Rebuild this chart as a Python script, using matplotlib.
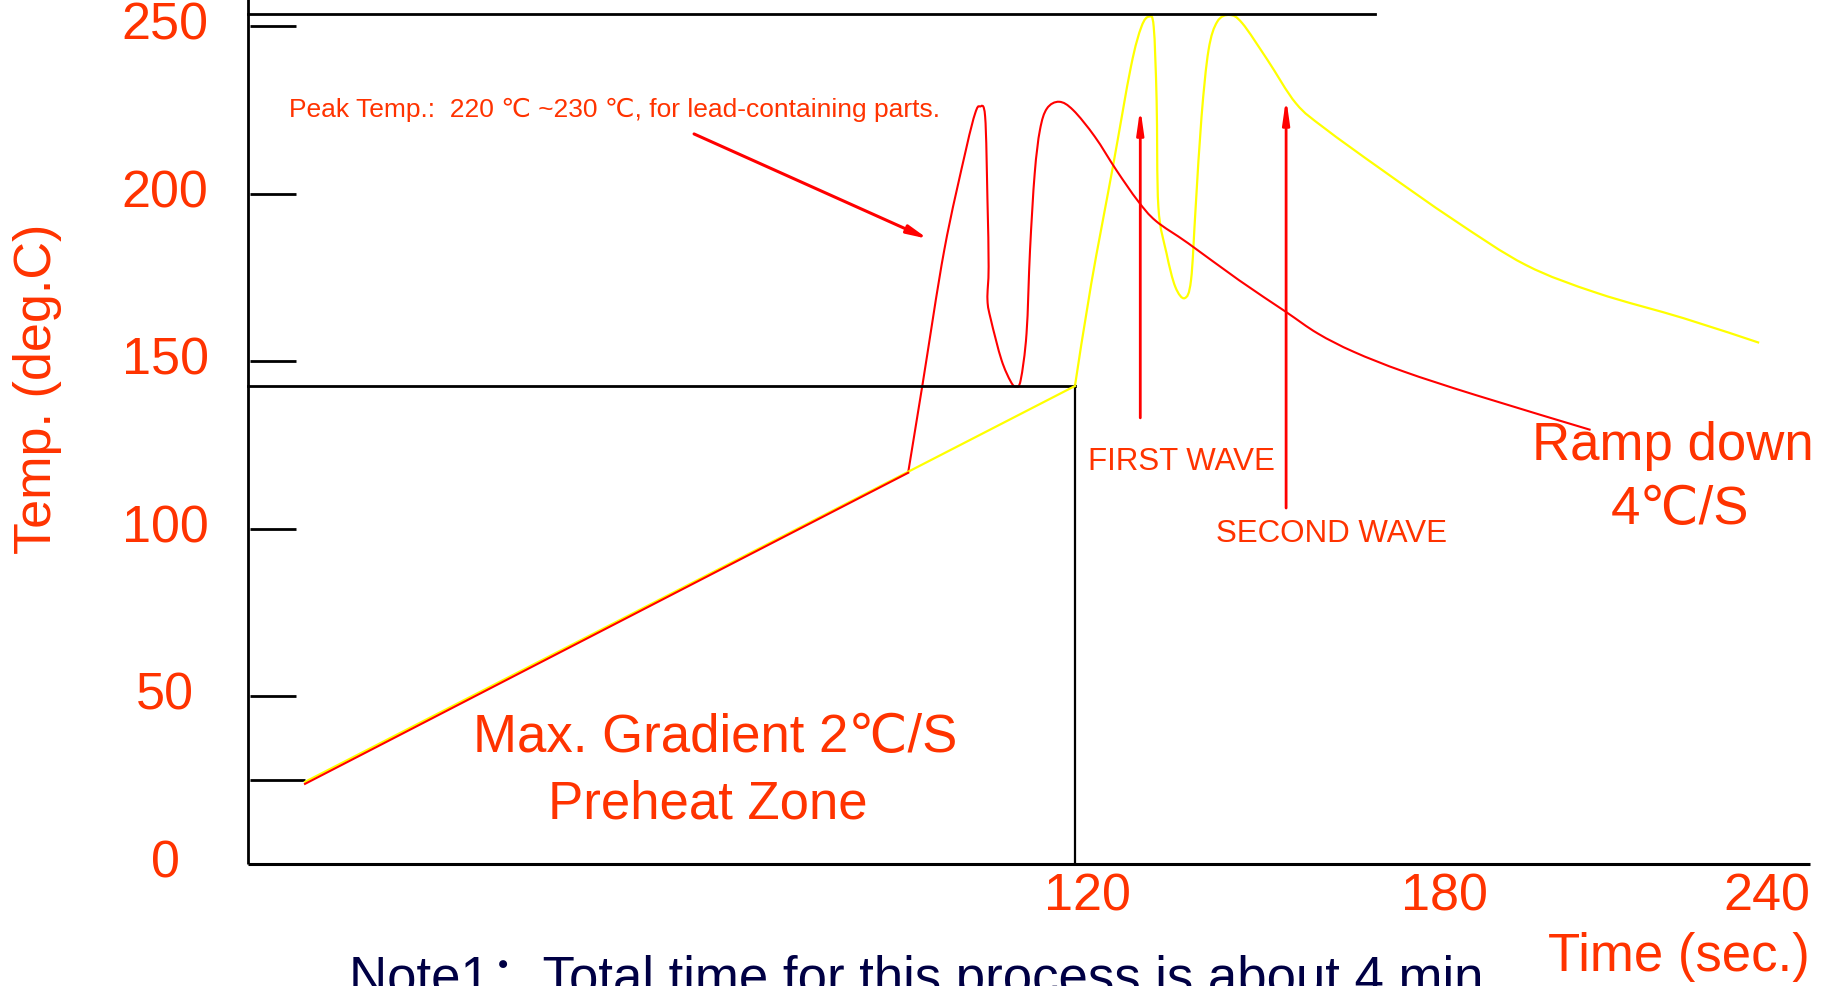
import matplotlib
matplotlib.use("Agg")
import matplotlib.pyplot as plt
import numpy as np
from matplotlib.path import Path
from matplotlib.patches import PathPatch

plt.rcParams["font.family"] = ["Liberation Sans", "DejaVu Sans"]

ORANGE = "#ff3300"
NAVY = "#000044"

# reflow profile readings (time in s, temperature in deg C), schematic chart
yellow_t = [-12.0, 120.0, 122.8, 126.5, 129.6, 131.4, 132.7, 133.5, 134.0, 134.3, 135.7,
            137.2, 138.8, 139.9, 140.7, 141.7, 142.9, 144.4, 146.5, 148.7, 153.0, 157.9,
            162.8, 172.7, 185.0, 197.3, 209.6, 224.4, 237.3]
yellow_temp = [24.5, 142.6, 173.2, 208.0, 237.9, 249.8, 252.8, 249.8, 227.9, 196.1, 182.2,
               172.2, 168.8, 174.2, 196.1, 222.9, 242.8, 251.3, 253.3, 250.8, 239.9, 226.9,
               219.5, 207.0, 192.1, 178.7, 170.3, 162.8, 155.5]

red_t = [-12.0, 91.4, 93.9, 97.6, 101.3, 102.9, 103.7, 104.6, 105.0, 105.2, 105.0, 105.6,
         107.4, 109.0, 109.9, 110.7, 111.7, 112.3, 113.1, 114.0, 115.2, 117.3, 119.7, 123.4,
         127.1, 130.8, 133.9, 139.4, 148.1, 156.1, 161.6, 167.8, 176.4, 188.7, 208.4]
red_temp = [23.9, 116.7, 143.4, 183.2, 213.0, 224.0, 226.0, 223.0, 198.1, 178.2, 168.3, 162.3,
            150.4, 143.9, 142.4, 144.4, 158.3, 183.2, 206.0, 219.0, 225.4, 227.4, 224.9, 217.0,
            207.0, 197.8, 191.8, 185.2, 174.2, 164.8, 158.3, 152.8, 146.9, 139.9, 129.5]

y_ticks = [250, 200, 150, 100, 50, 25]
y_labels = [250, 200, 150, 100, 50, 0]
x_labels = [120, 180, 240]
x_label_nudge = [9, 14, -6]   # points, the printed labels sit a little off their marks

axis_t = -21.8
axis_end_t = 246.0
top_temp = 253.6
top_end_t = 171.4
preheat_end_t = 120
preheat_temp = 142.6


def smooth_curve(ts, vs):
    # Catmull-Rom through the read points, drawn as cubic Bezier pieces
    p = np.column_stack([ts, vs])
    verts = [p[0]]
    codes = [Path.MOVETO]
    n = len(p)
    for i in range(n - 1):
        p0 = p[i - 1] if i > 0 else p[i]
        p1, p2 = p[i], p[i + 1]
        p3 = p[i + 2] if i + 2 < n else p[i + 1]
        verts += [p1 + (p2 - p0) / 6, p2 - (p3 - p1) / 6, p2]
        codes += [Path.CURVE4] * 3
    return Path(verts, codes)


fig = plt.figure(figsize=(18.26, 9.86), dpi=100)
ax = fig.add_axes([0, 0, 1, 1])
ax.set_xlim(-64.29, 248.76)
ax.set_ylim(-36.4, 257.76)
ax.axis("off")

# frame lines
ax.plot([axis_t, axis_t], [0, 260], color="black", lw=2, solid_capstyle="butt")
ax.plot([axis_t, axis_end_t], [0, 0], color="black", lw=2.2, solid_capstyle="butt")
ax.plot([axis_t, top_end_t], [top_temp, top_temp], color="black", lw=2)
ax.plot([axis_t, preheat_end_t], [preheat_temp, preheat_temp], color="black", lw=2)
ax.plot([preheat_end_t, preheat_end_t], [0, preheat_temp], color="black", lw=1.6)

for v in y_ticks:
    end = -12.0 if v == 25 else -13.5
    ax.plot([-21.4, end], [v, v], color="black", lw=2, solid_capstyle="butt")

for v in y_labels:
    ax.text(-36.0, v, str(v), color=ORANGE, fontsize=37.5, ha="center", va="center")
for v, dx in zip(x_labels, x_label_nudge):
    ax.annotate(str(v), xy=(v, -9.8), xytext=(dx, 0), textcoords="offset points",
                color=ORANGE, fontsize=37.5, ha="center", va="center")

# profiles: straight preheat ramp, then the smooth wave part
ax.plot(yellow_t[:2], yellow_temp[:2], color="#ffff00", lw=1.6)
ax.add_patch(PathPatch(smooth_curve(yellow_t[1:], yellow_temp[1:]), fill=False,
                       edgecolor="#ffff00", lw=1.6))
ax.plot(red_t[:2], red_temp[:2], color="#ff0000", lw=1.5)
ax.add_patch(PathPatch(smooth_curve(red_t[1:], red_temp[1:]), fill=False,
                       edgecolor="#ff0000", lw=1.5))

# arrows
arrow = dict(arrowstyle="-|>,head_length=1.2,head_width=0.25", color="#ff0000", lw=2.2,
             shrinkA=0, shrinkB=0)
ax.annotate("", xy=(94.8, 186.5), xytext=(54.7, 217.8), arrowprops=arrow)
thin = dict(arrowstyle="-|>,head_length=1.4,head_width=0.2", color="#ff0000", lw=2,
            shrinkA=0, shrinkB=0)
ax.annotate("", xy=(131.2, 225.5), xytext=(131.2, 133.1), arrowprops=thin)
ax.annotate("", xy=(156.2, 228.5), xytext=(156.2, 106.2), arrowprops=thin)

# annotations
ax.text(-14.7, 225.1, "Peak Temp.:  220 \u2103 ~230 \u2103, for lead-containing parts.",
        color=ORANGE, fontsize=19, ha="left", va="center")
ax.text(122.2, 119.9, "FIRST WAVE", color=ORANGE, fontsize=22.5, ha="left", va="center")
ax.text(144.2, 98.3, "SECOND WAVE", color=ORANGE, fontsize=22.5, ha="left", va="center")
ax.text(222.5, 124.7, "Ramp down", color=ORANGE, fontsize=38, ha="center", va="center")
ax.text(223.7, 105.6, "4\u2103/S", color=ORANGE, fontsize=38, ha="center", va="center")
ax.text(58.3, 37.6, "Max. Gradient 2\u2103/S", color=ORANGE, fontsize=38, ha="center", va="center")
ax.text(57.1, 17.6, "Preheat Zone", color=ORANGE, fontsize=38, ha="center", va="center")
ax.text(-57.8, 141.7, "Temp. (deg.C)", color=ORANGE, fontsize=37.5, rotation=90,
        ha="center", va="center")
ax.text(223.6, -27.7, "Time (sec.)", color=ORANGE, fontsize=38, ha="center", va="center")
ax.text(-4.5, -38.8, "Note1\uff1aTotal time for this process is about 4 min", color=NAVY,
        fontsize=38, ha="left", va="baseline", clip_on=False,
        family=["Liberation Sans", "Noto Sans CJK SC"])

fig.savefig("out.png", dpi=100)
